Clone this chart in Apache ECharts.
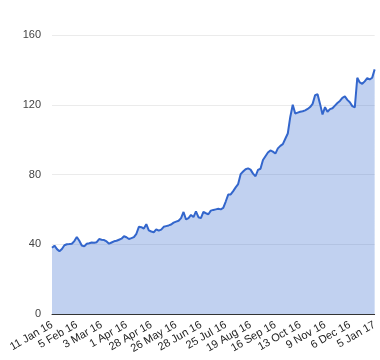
<!DOCTYPE html>
<html>
<head>
<meta charset="utf-8">
<script src="https://cdn.jsdelivr.net/npm/echarts@6/dist/echarts.min.js"></script>
<style>
  html, body { margin: 0; padding: 0; background: #fff; }
  #chart { width: 380px; height: 360px; }
</style>
</head>
<body>
<div id="chart"></div>
<script>
// Tick labels shown under the x axis (one every STEP samples)
const tickLabels = ['11 Jan 16', '5 Feb 16', '3 Mar 16', '1 Apr 16', '28 Apr 16', '26 May 16',
  '28 Jun 16', '25 Jul 16', '19 Aug 16', '16 Sep 16', '13 Oct 16', '9 Nov 16', '6 Dec 16', '5 Jan 17'];
const STEP = 10;

// Series values (one per sample, in order)
const prices = [
  38.0, 39.2, 37.2, 36.0, 37.3, 39.4, 40.0, 40.1, 40.3, 41.8,
  44.2, 42.0, 39.3, 38.8, 40.3, 40.6, 41.0, 40.9, 41.2, 43.0,
  42.6, 42.4, 41.6, 40.3, 41.0, 41.7, 42.0, 42.6, 43.2, 44.6,
  44.0, 43.0, 43.5, 44.1, 46.0, 50.0, 49.8, 49.0, 51.5, 48.0,
  47.3, 46.9, 48.5, 47.8, 48.4, 50.0, 50.4, 50.8, 51.3, 52.4,
  53.0, 53.5, 55.0, 58.5, 54.2, 55.0, 56.8, 55.6, 58.8, 55.5,
  55.0, 58.6, 57.8, 57.2, 59.3, 59.7, 60.0, 60.3, 60.0, 60.8,
  64.5, 68.5, 68.6, 70.5, 72.6, 74.5, 80.2, 81.7, 83.0, 83.5,
  82.8, 80.5, 79.0, 82.6, 83.3, 88.3, 90.5, 92.6, 93.8, 93.1,
  92.0, 95.0, 96.4, 97.4, 100.5, 103.5, 113.0, 120.0, 115.0, 115.5,
  116.0, 116.3, 116.8, 117.6, 118.7, 120.5, 125.5, 126.0, 120.5, 114.4,
  118.6, 116.0, 117.5, 118.0, 119.5, 121.0, 122.2, 124.0, 124.8, 122.8,
  121.4, 119.2, 118.5, 135.5, 132.8, 132.0, 133.4, 135.2, 134.5, 135.5,
  140.3
];

// Y axis ticks
const yTicks = [0, 40, 80, 120, 160];

const chart = echarts.init(document.getElementById('chart'), null, { renderer: 'canvas' });
chart.setOption({
  animation: false,
  backgroundColor: '#ffffff',
  textStyle: { fontFamily: 'Liberation Sans, Arial, sans-serif' },
  grid: { left: 52, right: 5, top: 35, bottom: 46 },
  xAxis: {
    type: 'value',
    min: 0,
    max: (tickLabels.length - 1) * STEP,
    interval: STEP,
    axisLine: { show: true, onZero: false, lineStyle: { color: '#333333', width: 1 } },
    axisTick: { show: false },
    splitLine: { show: false },
    axisLabel: {
      rotate: 30,
      margin: 10,
      fontSize: 11,
      color: '#222222',
      fontFamily: 'Liberation Sans, Arial, sans-serif',
      formatter: function (v) { return tickLabels[Math.round(v / STEP)] || ''; }
    }
  },
  yAxis: {
    type: 'value',
    min: yTicks[0],
    max: yTicks[yTicks.length - 1],
    interval: yTicks[1] - yTicks[0],
    axisLine: { show: false },
    axisTick: { show: false },
    splitLine: { show: true, lineStyle: { color: '#ebebeb', width: 1 } },
    axisLabel: {
      fontSize: 11,
      color: '#444444',
      margin: 11,
      fontFamily: 'Liberation Sans, Arial, sans-serif'
    }
  },
  series: [{
    type: 'line',
    data: prices.map(function (v, i) { return [i, v]; }),
    showSymbol: false,
    symbol: 'none',
    lineStyle: { color: '#3366cc', width: 2 },
    itemStyle: { color: '#3366cc' },
    areaStyle: { color: '#3366cc', opacity: 0.3 },
    z: 3
  }]
});
</script>
</body>
</html>
